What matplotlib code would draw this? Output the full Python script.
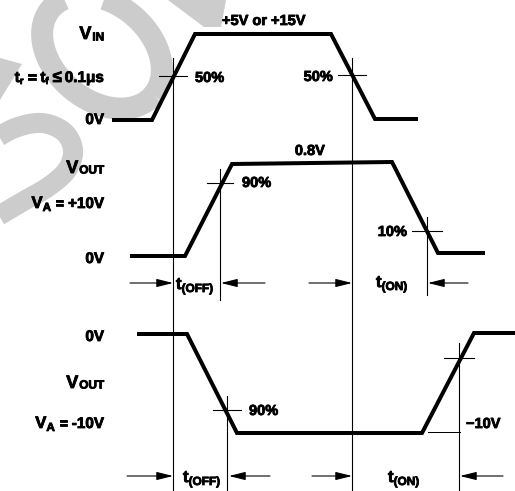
import numpy as np
import matplotlib
matplotlib.use("Agg")
import matplotlib.pyplot as plt
import matplotlib.patheffects as pe

plt.rcParams['font.family'] = ['Liberation Sans', 'DejaVu Sans']
plt.rcParams['font.weight'] = 'bold'

# ---------------- data (waveform breakpoints: time, level) ----------------
vin_t = [112, 152, 195, 331, 375, 418]
vin_y = [120, 120, 34, 34, 119, 119]

vout1_t = [130, 185, 232, 392, 438, 485]
vout1_y = [256, 256, 164, 162, 253, 253]

vout2_t = [137, 187, 237, 422, 474, 515]
vout2_y = [334, 334, 433, 433, 333, 333]

# crosshair markers: (x, y, vertical top, vertical bottom)
mark_x = [173, 352, 220, 427, 227, 459]
mark_y = [76, 75, 183, 231, 410, 358]
mark_top = [58, 58, 169, 217, 396, 343]
mark_bot = [491, 491, 300, 295, 491, 491]
mark_hw = [14, 14, 13, 15, 14, 15]

# percentage labels
pct_labels = ['50%', '50%', '90%', '10%', '90%']
pct_x = [195, 333, 242, 407, 249]
pct_y = [82, 81, 187, 236, 415]
pct_ha = ['left', 'right', 'left', 'right', 'left']

# timing arrows: (tail, tip, y)
arr_tail = [130, 265, 309, 468, 127, 270, 312, 503]
arr_tip = [173, 221, 352, 428, 173, 229, 352, 460]
arr_y = [283, 283, 283, 283, 476, 476, 476, 476]

tim_subs = ['(OFF)', '(ON)', '(OFF)', '(ON)']
tim_x = [176, 376, 183, 388]
tim_y = [289, 287, 482, 482]

# left-hand labels: runs of (text, fontsize, baseline shift, gap before)
side_labels = [
    [('V', 13, 0, 0), ('IN', 8.5, 1.5, 1)],
    [('t', 11, 0, 0), ('r', 7, 2, 0), ('=', 11, 0, 4), ('t', 11, 0, 4), ('f', 7, 2, 0),
     ('\u2264', 12, 0, 4), ('0.1\u03bcs', 11, 0, 3)],
    [('0V', 11, 0, 0)],
    [('V', 13, 0, 0), ('OUT', 8.5, 0.5, 1)],
    [('V', 12, 0, 0), ('A', 8.5, 3, 0), ('=', 11, 0, 4), ('+10V', 11, 0, 4)],
    [('0V', 11, 0, 0)],
    [('0V', 11, 0, 0)],
    [('V', 13, 0, 0), ('OUT', 8.5, 0.5, 1)],
    [('V', 12, 0, 0), ('A', 8.5, 3, 0), ('=', 11, 0, 4), ('-10V', 11, 0, 4)],
]
side_y = [39, 82, 124, 173, 208, 263, 341, 388, 428]

# ---------------- figure ----------------
fig = plt.figure(figsize=(5.15, 4.91), dpi=100)
ax = fig.add_axes([0, 0, 1, 1])
ax.set_xlim(0, 515)
ax.set_ylim(491, 0)
ax.axis('off')

px = 72 / 100.0  # points per pixel
wm = '#cccccc'
heavy = [pe.withStroke(linewidth=0.6, foreground='black')]
renderer = fig.canvas.get_renderer()


def runs_text(x, y, runs, ha='left'):
    objs, widths, gaps = [], [], []
    for s, size, dy, gap in runs:
        o = ax.text(0, 0, s, fontsize=size, fontweight='bold', va='baseline',
                    ha='left', path_effects=heavy, zorder=5)
        objs.append(o)
        widths.append(o.get_window_extent(renderer=renderer).width)
        gaps.append(gap)
    total = sum(widths) + sum(gaps)
    x0 = x - total if ha == 'right' else x
    for o, w, g, (s, size, dy, gap) in zip(objs, widths, gaps, runs):
        x0 += g
        o.set_position((x0, y + dy))
        x0 += w


# watermark "O" ring
phi = np.linspace(0, 2 * np.pi, 200)
cx, cy, a, b, th = 102, 52, 67, 48, np.deg2rad(40)
ex = cx + a * np.cos(th) * np.cos(phi) - b * np.sin(th) * np.sin(phi)
ey = cy + a * np.sin(th) * np.cos(phi) + b * np.cos(th) * np.sin(phi)
ax.plot(ex, ey, color=wm, lw=22 * px, zorder=0, solid_capstyle='butt')


# watermark "S" piece
def catmull(pts, n=20):
    pts = np.asarray(pts, float)
    p = np.vstack([pts[0], pts, pts[-1]])
    out = []
    for i in range(1, len(p) - 2):
        p0, p1, p2, p3 = p[i - 1], p[i], p[i + 1], p[i + 2]
        for t in np.linspace(0, 1, n, endpoint=False):
            out.append(0.5 * ((2 * p1) + (-p0 + p2) * t + (2 * p0 - 5 * p1 + 4 * p2 - p3) * t ** 2
                              + (-p0 + 3 * p1 - 3 * p2 + p3) * t ** 3))
    out.append(p[-2])
    return np.array(out)


s_pts = [(-10, 142), (15, 128), (42, 123), (64, 132), (73, 150), (67, 170),
         (48, 187), (22, 202), (-5, 218)]
sp = catmull(s_pts)
ax.plot(sp[:, 0], sp[:, 1], color=wm, lw=20 * px, zorder=0, solid_capstyle='butt')
ax.fill([0, 22, 0], [58, 64, 100], color=wm, zorder=0, lw=0)
ax.fill([168, 226, 221, 204], [0, 0, 27, 27], color=wm, zorder=0, lw=0)

# waveforms
for t, y in ((vin_t, vin_y), (vout1_t, vout1_y), (vout2_t, vout2_y)):
    ax.plot(t, y, color='black', lw=4 * px, solid_joinstyle='miter',
            solid_capstyle='butt', zorder=3)

# crosshairs
for x, y, t0, t1, hw in zip(mark_x, mark_y, mark_top, mark_bot, mark_hw):
    ax.plot([x, x], [t0, t1], color='black', lw=1.1 * px, zorder=2)
    ax.plot([x - hw, x + hw], [y, y], color='black', lw=1.1 * px, zorder=2)
# -10V reference line
ax.plot([428, 460], [432, 432], color='black', lw=1.0 * px, zorder=2)

# arrows
for tail, tip, y in zip(arr_tail, arr_tip, arr_y):
    ax.annotate('', xy=(tip, y), xytext=(tail, y),
                arrowprops=dict(arrowstyle='-|>,head_length=1.0,head_width=0.25',
                                mutation_scale=10, lw=1.1 * px, color='black',
                                shrinkA=0, shrinkB=0), zorder=4)

fs = 10.5
for s, x, y, ha in zip(pct_labels, pct_x, pct_y, pct_ha):
    ax.text(x, y, s, ha=ha, va='baseline', fontsize=fs, fontweight='bold',
            path_effects=heavy)

for s, x, y in zip(tim_subs, tim_x, tim_y):
    runs_text(x, y, [('t', 12, 0, 0), (s, 8.5, 3, 0)])

for runs, y in zip(side_labels, side_y):
    runs_text(104, y, runs, ha='right')

ax.text(264, 25, '+5V or +15V', ha='center', va='baseline', fontsize=fs,
        fontweight='bold', path_effects=heavy)
ax.text(310, 155, '0.8V', ha='center', va='baseline', fontsize=fs,
        fontweight='bold', path_effects=heavy)
ax.text(466, 428, '\u221210V', ha='left', va='baseline', fontsize=fs,
        fontweight='bold', path_effects=heavy)

fig.savefig('out.png', dpi=100)
